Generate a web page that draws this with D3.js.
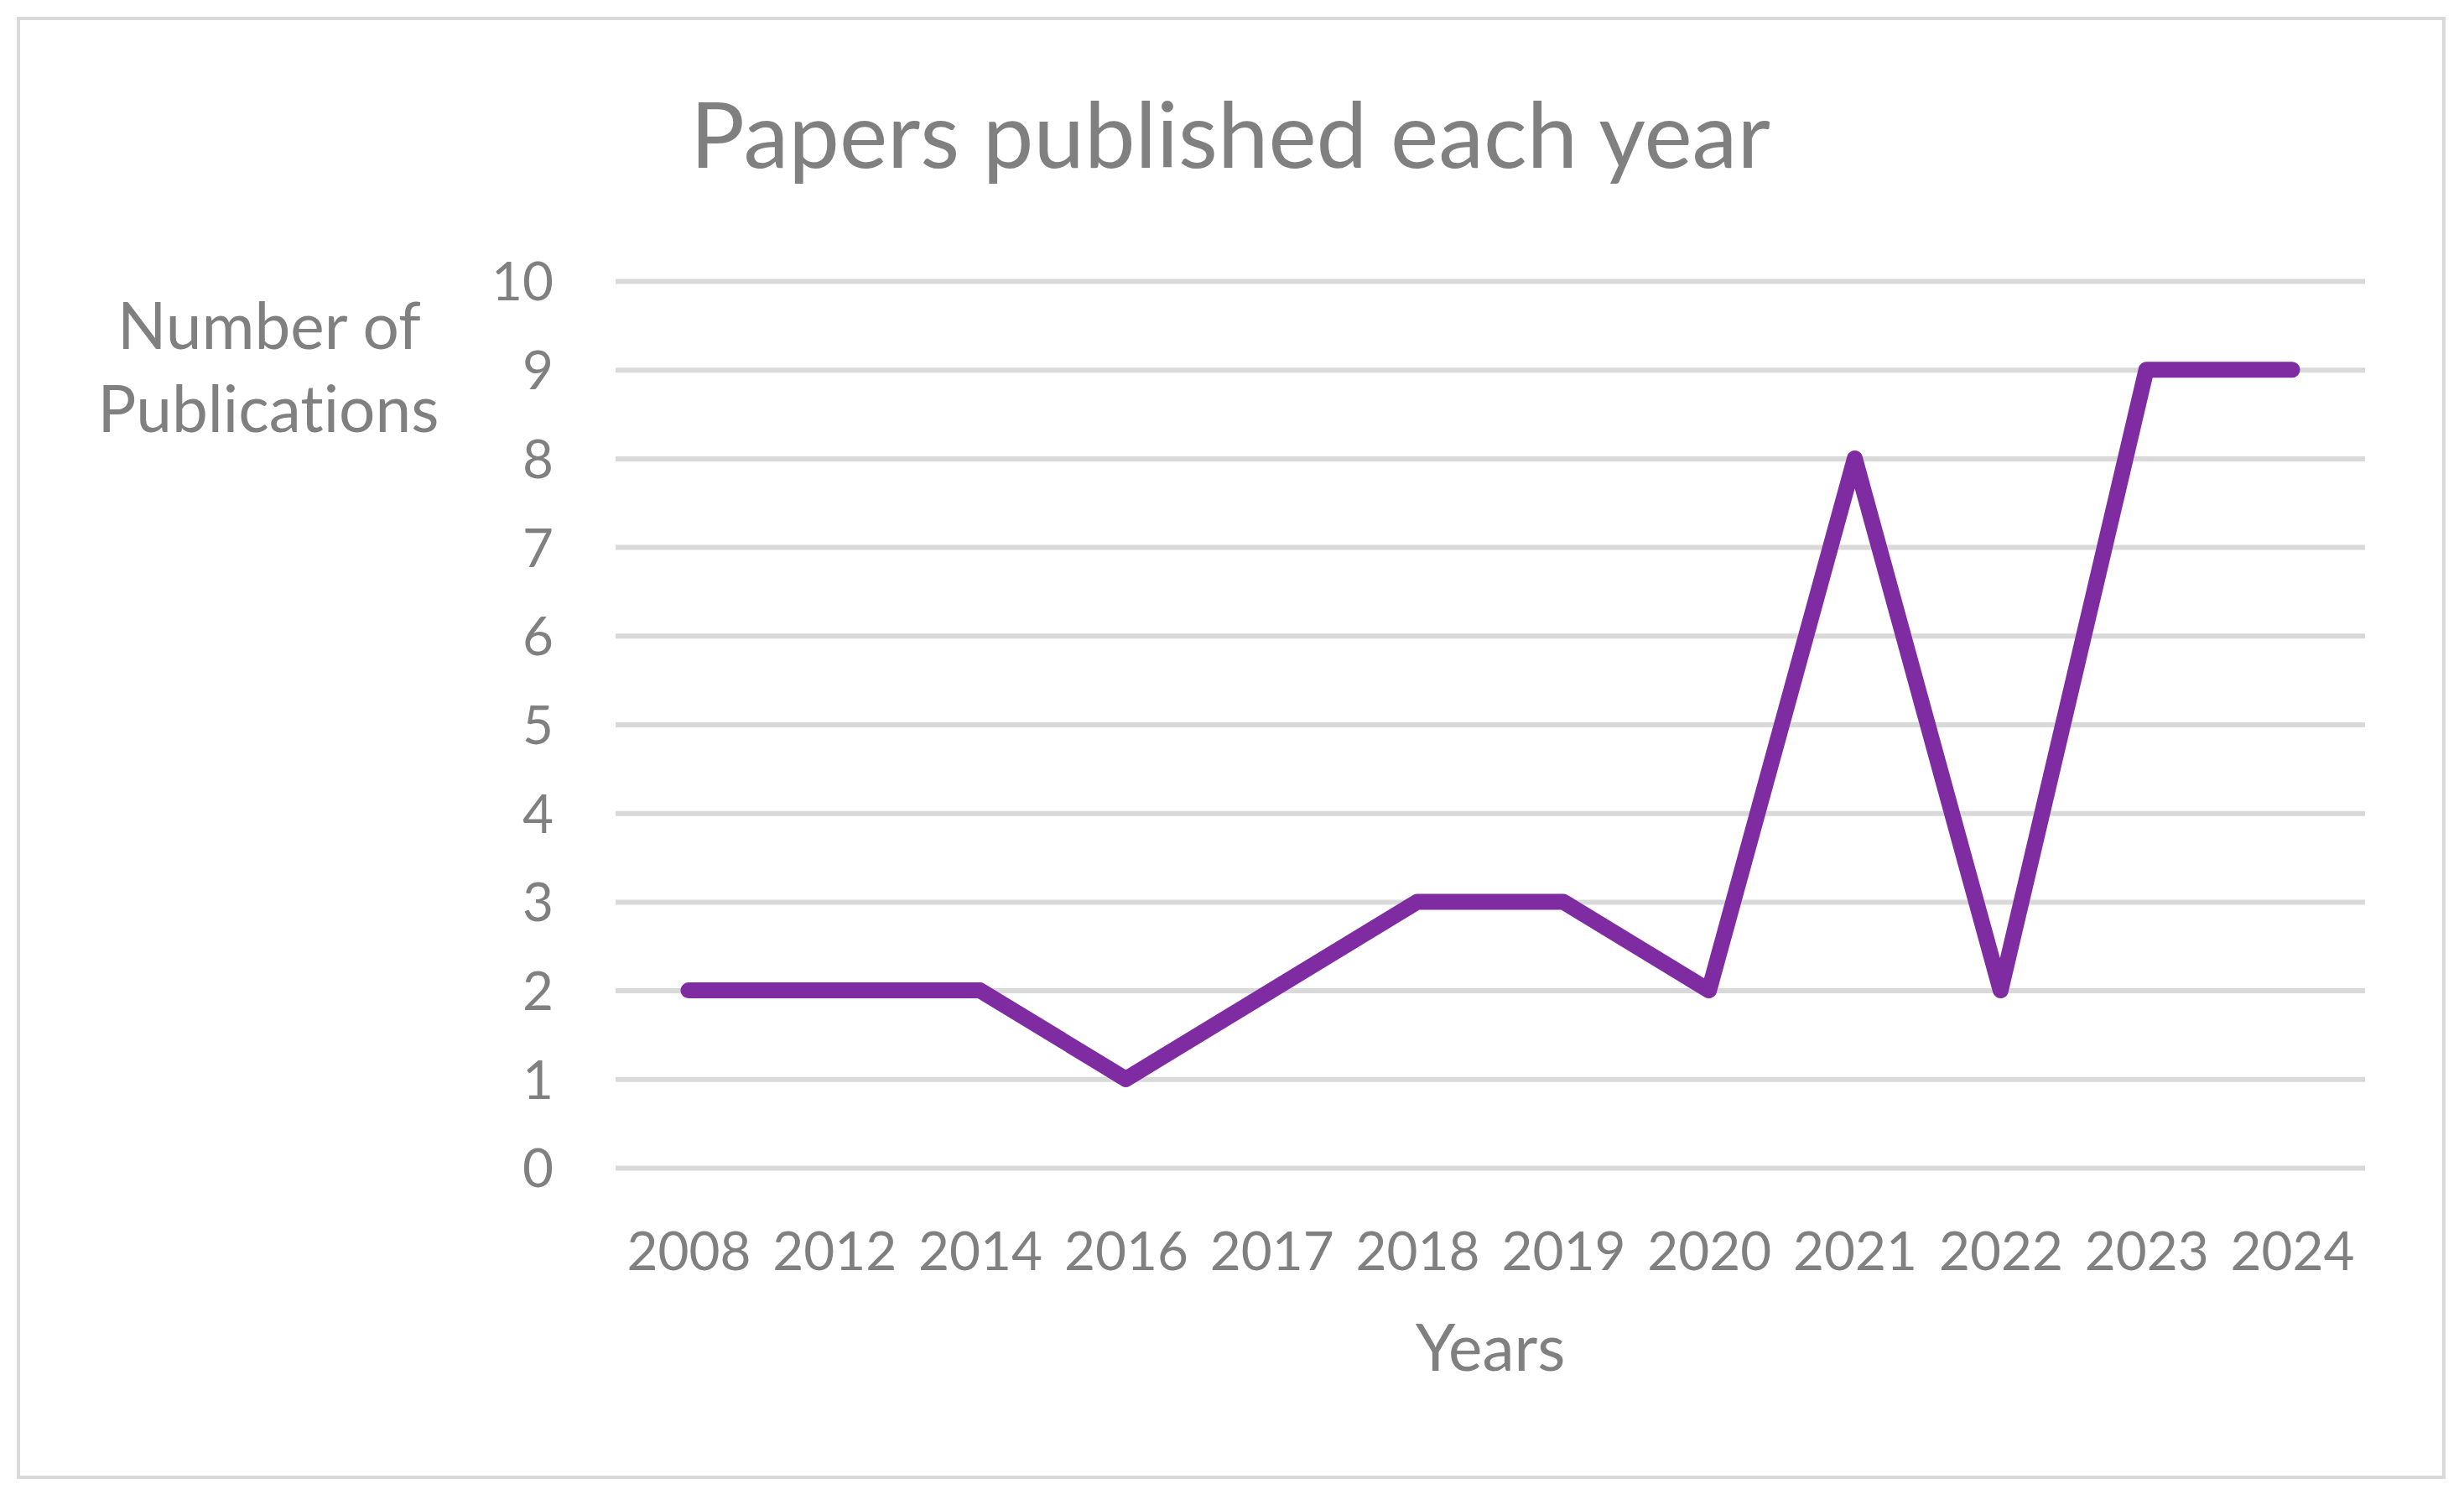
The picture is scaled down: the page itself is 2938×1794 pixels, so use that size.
<!DOCTYPE html>
<html>
<head>
<meta charset="utf-8">
<script src="https://cdn.jsdelivr.net/npm/d3@7"></script>
<style>
  html, body { margin: 0; padding: 0; background: #fff; }
  text { font-family: Lato, "Open Sans", sans-serif; fill: #808080; font-variant-ligatures: none; }
</style>
</head>
<body>
<div id="content"></div>
<script>
// data
var years = ['2008', '2012', '2014', '2016', '2017', '2018', '2019', '2020', '2021', '2022', '2023', '2024'];
var papers = [2, 2, 2, 1, 2, 3, 3, 2, 8, 2, 9, 9];
var yTicks = [0, 1, 2, 3, 4, 5, 6, 7, 8, 9, 10];

var W = 2938, H = 1794;
var svg = d3.select('#content').append('svg')
    .attr('width', W)
    .attr('height', H);

// chart frame
svg.append('rect').attr('x', 22).attr('y', 22)
    .attr('width', 2892).attr('height', 1739)
    .attr('fill', '#fff').attr('stroke', '#d9d9d9').attr('stroke-width', 4);

var plotLeft = 734, plotRight = 2820, plotTop = 335, plotBottom = 1392;

var x = d3.scalePoint().domain(years).range([plotLeft, plotRight]).padding(0.5);
var y = d3.scaleLinear().domain([0, 10]).range([plotBottom, plotTop]);

// shrink/grow a text to a target width (fonts differ from the original)
function fit(sel, target) {
    var w = sel.node().getComputedTextLength();
    var fs = parseFloat(sel.attr('font-size'));
    sel.attr('font-size', fs * target / w);
    return fs * target / w;
}

// y axis with gridlines
var yAxis = svg.append('g')
    .attr('transform', 'translate(' + plotLeft + ',0)')
    .call(d3.axisLeft(y).tickValues(yTicks).tickSize(-(plotRight - plotLeft)).tickPadding(74));
yAxis.select('.domain').remove();
yAxis.selectAll('line').attr('stroke', '#d9d9d9').attr('stroke-width', 6);
yAxis.selectAll('text').attr('font-size', 66).attr('fill', '#808080')
    .attr('font-family', 'Lato').attr('dy', '0.36em');

// x axis labels
var xAxis = svg.append('g')
    .attr('transform', 'translate(0,' + plotBottom + ')')
    .call(d3.axisBottom(x).tickSize(0).tickPadding(0));
xAxis.select('.domain').remove();
xAxis.selectAll('text').attr('font-size', 66).attr('fill', '#808080')
    .attr('font-family', 'Lato').attr('dy', null).attr('y', 122);

var first = xAxis.select('.tick text');
var fs = fit(first, 148);
xAxis.selectAll('text').attr('font-size', fs);
yAxis.selectAll('text').attr('font-size', fs);

// the series
var line = d3.line()
    .x(function(d, i) { return x(years[i]); })
    .y(function(d) { return y(d); });

svg.append('path')
    .datum(papers)
    .attr('d', line)
    .attr('fill', 'none')
    .attr('stroke', '#7f2ca3')
    .attr('stroke-width', 19)
    .attr('stroke-linecap', 'round')
    .attr('stroke-linejoin', 'round');

// titles
var title = svg.append('text')
    .attr('x', 1467).attr('y', 200)
    .attr('text-anchor', 'middle')
    .attr('font-size', 100)
    .attr('fill', '#7f7f7f')
    .text('Papers published each year');
fit(title, 1288);

var yt1 = svg.append('text').attr('x', 321).attr('y', 416)
    .attr('text-anchor', 'middle').attr('font-size', 70)
    .text('Number of');
var afs = fit(yt1, 362);
svg.append('text').attr('x', 320).attr('y', 515)
    .attr('text-anchor', 'middle').attr('font-size', afs)
    .text('Publications');
svg.append('text').attr('x', 1777).attr('y', 1634)
    .attr('text-anchor', 'middle').attr('font-size', afs)
    .text('Years');
</script>
</body>
</html>
